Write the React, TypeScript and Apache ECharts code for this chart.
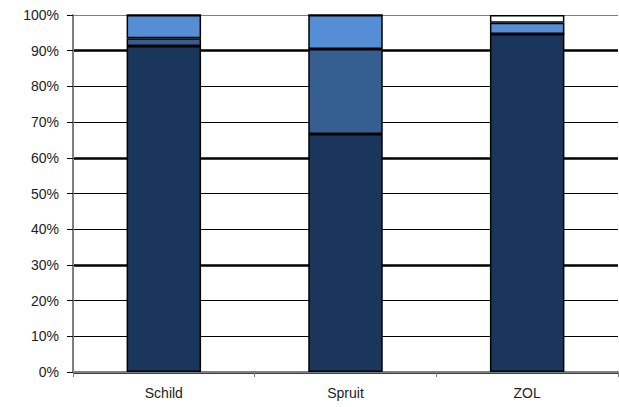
import React, { useEffect, useRef } from "react";
import * as echarts from "echarts";

const categories = ["Schild", "Spruit", "ZOL"];
const seriesDark = [91.3, 66.7, 94.7];
const seriesMid = [2.2, 23.8, 0];
const seriesLight = [6.5, 9.5, 3.1];
const seriesWhite = [0, 0, 2.2];
const colors = ["#1a365c", "#365f91", "#558ed5", "#ffffff"];

export default function App() {
  const ref = useRef<HTMLDivElement>(null);
  useEffect(() => {
    const chart = echarts.init(ref.current!, null, { renderer: "svg" });
    const font = { fontFamily: "Liberation Sans, Arial, sans-serif", fontSize: 14, color: "#222" };
    const data = [seriesDark, seriesMid, seriesLight, seriesWhite];
    chart.setOption({
      animation: false,
      grid: { left: 73, right: 1, top: 15, bottom: 35 },
      xAxis: {
        type: "category",
        data: categories,
        axisLine: { lineStyle: { color: "#808080", width: 2 } },
        axisTick: { show: true, length: 5, lineStyle: { color: "#808080" } },
        axisLabel: { ...font, margin: 14 },
      },
      yAxis: [
        {
          type: "value",
          min: 0,
          max: 100,
          interval: 10,
          axisLine: { show: true, lineStyle: { color: "#808080", width: 2 } },
          axisTick: { show: true, length: 6, lineStyle: { color: "#000" } },
          axisLabel: { ...font, margin: 14, formatter: "{value}%" },
          splitLine: {
            lineStyle: {
              color: ["#000", "#000", "#000", "#000", "#000", "#000", "#000", "#000", "#000", "#000", "#808080"],
              width: 1,
            },
          },
        },
        {
          type: "value",
          min: 0,
          max: 100,
          interval: 30,
          position: "left",
          axisLine: { show: false },
          axisTick: { show: false },
          axisLabel: { show: false },
          splitLine: {
            show: true,
            lineStyle: { color: ["#000", "#000", "#000", "#000", "rgba(0,0,0,0)"], width: 2.5 },
          },
        },
      ],
      series: data.map((d, i) => ({
        type: "bar",
        stack: "total",
        data: d,
        barWidth: "41%",
        yAxisIndex: 0,
        itemStyle: { color: colors[i], borderColor: "#000", borderWidth: 1.5 },
      })),
    });
    return () => chart.dispose();
  }, []);
  return (
    <div
      ref={ref}
      style={{ position: "fixed", left: 0, top: 0, width: 619, height: 407, background: "#fff" }}
    />
  );
}
